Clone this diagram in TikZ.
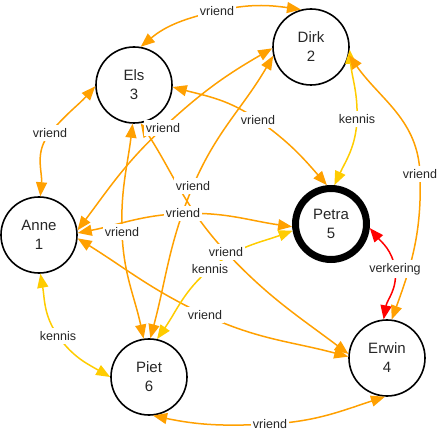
\documentclass[tikz,border=0pt]{standalone}
\usepackage{fontspec}
\setmainfont{Liberation Sans}
\usetikzlibrary{arrows.meta}
\definecolor{vrc}{RGB}{255,160,0}
\definecolor{kec}{RGB}{255,204,0}
\definecolor{vkc}{RGB}{255,0,0}
\begin{document}
\begin{tikzpicture}[x=1pt,y=1pt,
 person/.style={circle,draw=black,line width=1.6pt,minimum size=76pt,inner sep=0pt,align=center,font=\fontsize{15}{19}\selectfont,text=black!85},
 focus/.style={person,line width=7pt,minimum size=71pt},
 rel/.style={line width=1.5pt,{Triangle[length=14pt,width=11pt]}-{Triangle[length=14pt,width=11pt]}},
 vriendE/.style={rel,draw=vrc},
 kennisE/.style={rel,draw=kec},
 verkeringE/.style={rel,draw=vkc},
 lbl/.style={fill=white,inner xsep=2pt,inner ysep=3pt,font=\fontsize{12.5}{14}\selectfont,text=black!85}
]
\useasboundingbox (0,0) rectangle (440,432);
% people
\node[person] (Anne) at (39,197) {Anne\\1};
\node[person] (Els) at (134,347) {Els\\3};
\node[person] (Dirk) at (311,385) {Dirk\\2};
\node[focus] (Petra) at (331,208) {Petra\\5};
\node[person] (Piet) at (149,55) {Piet\\6};
\node[person] (Erwin) at (387,74) {Erwin\\4};
% label positions
\coordinate (L1) at (217,421);
\coordinate (L2) at (50,299);
\coordinate (L3) at (163,304);
\coordinate (L4) at (183,218.5);
\coordinate (L5) at (58,96);
\coordinate (L6) at (205,117);
\coordinate (L7) at (258,312);
\coordinate (L8) at (122,200);
\coordinate (L9) at (226,180);
\coordinate (L10) at (357,313);
\coordinate (L11) at (420,258);
\coordinate (L12) at (193,246);
\coordinate (L13) at (395,163);
\coordinate (L14) at (210,163);
\coordinate (L15) at (270,8);
% relations
\draw[vriendE] (Els.80) to[out=40,in=193] (L1) to[out=13,in=172] (Dirk.105);
\draw[vriendE] (Els.182) to[out=228,in=50] (L2) to[out=230,in=85] (Anne.88);
\draw[vriendE] (Anne.7) to[out=53,in=223] (L3) to[out=43,in=210] (Dirk.182);
\draw[vriendE] (Anne.3) to[out=11,in=182] (L4) to[out=2,in=172] (Petra.184);
\draw[kennisE] (Anne.-88) to[out=-80,in=125] (L5) to[out=-55,in=150] (Piet.180);
\draw[vriendE] (Anne.-5) to[out=-32,in=155] (L6) to[out=-25,in=165] (Erwin.178);
\draw[vriendE] (Els.-3) to[out=-15,in=145] (L7) to[out=-35,in=131] (Petra.96);
\draw[vriendE] (Els.-92) to[out=-97,in=92] (L8) to[out=-88,in=102] (Piet.98);
\draw[vriendE] (Els.-80) to[out=-57,in=133] (L9) to[out=-47,in=143] (Erwin.174);
\draw[kennisE] (Dirk.-4) to[out=-86,in=88] (L10) to[out=-92,in=65] (Petra.85);
\draw[vriendE] (Dirk.-12) to[out=-55,in=92] (L11) to[out=-88,in=70] (Erwin.83);
\draw[vriendE] (Dirk.193) to[out=240,in=67] (L12) to[out=247,in=75] (Piet.88);
\draw[verkeringE] (Petra.-6) to[out=-50,in=98] (L13) to[out=-82,in=80] (Erwin.95);
\draw[kennisE] (Petra.190) to[out=200,in=40] (L14) to[out=220,in=55] (Piet.78);
\draw[vriendE] (Piet.-84) to[out=-12,in=183] (L15) to[out=3,in=198] (Erwin.-93);
% labels
\node[lbl] (t1) at (L1) {vriend};
\node[lbl] (t2) at (L2) {vriend};
\node[lbl] (t3) at (L3) {vriend};
\node[lbl] (t4) at (L4) {vriend};
\node[lbl] (t5) at (L5) {kennis};
\node[lbl] (t6) at (L6) {vriend};
\node[lbl] (t7) at (L7) {vriend};
\node[lbl] (t8) at (L8) {vriend};
\node[lbl] (t9) at (L9) {vriend};
\node[lbl] (t10) at (L10) {kennis};
\node[lbl] (t11) at (L11) {vriend};
\node[lbl] (t12) at (L12) {vriend};
\node[lbl] (t13) at (L13) {verkering};
\node[lbl] (t14) at (L14) {kennis};
\node[lbl] (t15) at (L15) {vriend};
\end{tikzpicture}
\end{document}
